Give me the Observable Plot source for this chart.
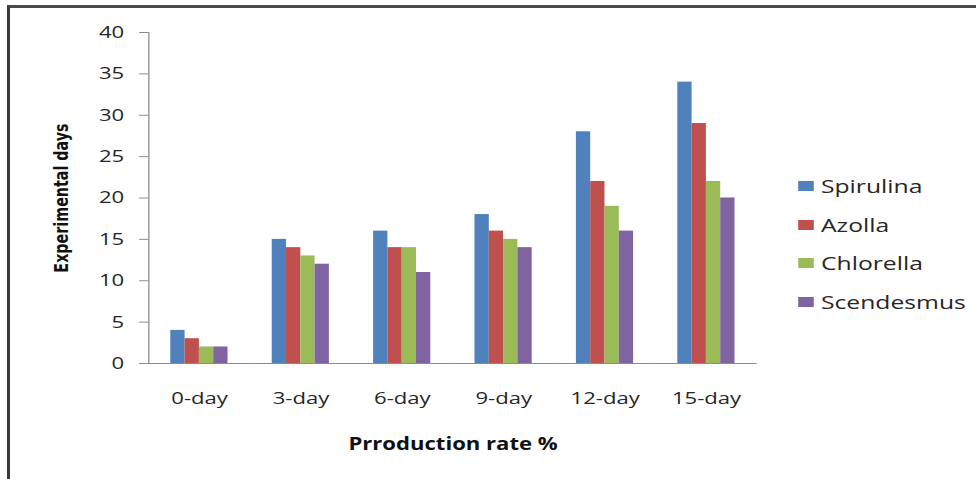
<!DOCTYPE html>
<html><head><meta charset="utf-8">
<script src="https://cdn.jsdelivr.net/npm/d3@7"></script>
<script src="https://cdn.jsdelivr.net/npm/@observablehq/plot@0.6"></script>
<style>
html,body{margin:0;padding:0;background:#fff;width:976px;height:479px;overflow:hidden;position:relative}
#border{position:absolute;left:7px;top:5px;width:990px;height:490px;border-top:3px solid #4a4a4a;border-left:3px solid #3a3a3a;box-sizing:border-box}
#stage{position:absolute;left:0;top:0;width:751px;height:479px;transform:scaleX(1.3);transform-origin:0 0}
#chart svg{position:absolute;left:0;top:0}
#chart svg text{fill:#262626}
#chart g[aria-label="y-axis label"] text, #chart g[aria-label="fx-axis label"] text{font-weight:bold;fill:#111}
#chart g[aria-label="y-axis label"] text{font-family:"DejaVu Sans";font-size:14.3px}
#legend{position:absolute;left:614px;top:166.6px;font-family:"Open Sans";font-size:19px;color:#262626}
#legend .row{height:38.7px;display:flex;align-items:center}
#legend .sw{width:11.5px;height:10px;margin-right:6px}
</style></head>
<body>
<div id="border"></div>
<div id="stage"><div id="chart"></div><div id="legend"></div></div>
<script>
const categories = ["0-day","3-day","6-day","9-day","12-day","15-day"];
const series = ["Spirulina","Azolla","Chlorella","Scendesmus"];
const spirulina = [4,15,16,18,28,34];
const azolla = [3,14,14,16,22,29];
const chlorella = [2,13,14,15,19,22];
const scendesmus = [2,12,11,14,16,20];
const yTicks = [0,5,10,15,20,25,30,35,40];
const colors = ["#4F81BD","#C0504D","#9BBB59","#8064A2"];

const values = [spirulina, azolla, chlorella, scendesmus];
const rows = [];
categories.forEach((c, i) => series.forEach((s, j) => rows.push({category: c, series: s, value: values[j][i]})));

const chart = Plot.plot({
  width: 751, height: 479,
  marginLeft: 114, marginRight: 169, marginTop: 32, marginBottom: 116,
  style: {fontFamily: "'Open Sans'", fontSize: "17px", color: "#8c8c8c", background: "transparent", overflow: "visible"},
  fx: {domain: categories, padding: 0, tickSize: 0, tickPadding: 28, label: "Prroduction rate %", labelAnchor: "center", labelOffset: 86, labelArrow: "none"},
  x: {domain: series, paddingInner: 0, paddingOuter: 1.5, axis: null},
  y: {domain: [0, 40], ticks: yTicks, tickSize: 7, tickPadding: 12, line: true, label: "Experimental days", labelAnchor: "center", labelOffset: 72, labelArrow: "none"},
  color: {domain: series, range: colors},
  marks: [
    Plot.barY(rows, {fx: "category", x: "series", y: "value", fill: "series"}),
    Plot.ruleY([0], {stroke: "#8c8c8c"})
  ]
});
document.getElementById("chart").append(chart);

const legend = document.getElementById("legend");
series.forEach((s, j) => {
  const row = document.createElement("div");
  row.className = "row";
  const sw = document.createElement("span");
  sw.className = "sw";
  sw.style.background = colors[j];
  const t = document.createElement("span");
  t.textContent = s;
  row.append(sw, t);
  legend.append(row);
});
</script>
</body></html>
